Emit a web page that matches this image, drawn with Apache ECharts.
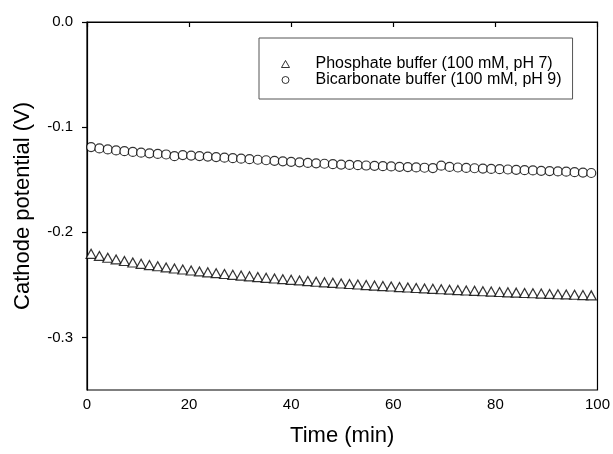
<!DOCTYPE html>
<html>
<head>
<meta charset="utf-8">
<script src="https://cdn.jsdelivr.net/npm/echarts@6/dist/echarts.min.js"></script>
<style>
  html, body { margin: 0; padding: 0; background: #fff; }
  #main { width: 613px; height: 454px; }
</style>
</head>
<body>
<div id="main"></div>
<script>
var myCharts = echarts.init(document.getElementById("main"));

// time (min) for each sample
var time = [0.8, 2.43, 4.07, 5.70, 7.33, 8.97, 10.60, 12.23, 13.86, 15.50,
    17.13, 18.76, 20.40, 22.03, 23.66, 25.30, 26.93, 28.56, 30.19, 31.83,
    33.46, 35.09, 36.73, 38.36, 39.99, 41.63, 43.26, 44.89, 46.52, 48.16,
    49.79, 51.42, 53.06, 54.69, 56.32, 57.96, 59.59, 61.22, 62.85, 64.49,
    66.12, 67.75, 69.39, 71.02, 72.65, 74.29, 75.92, 77.55, 79.18, 80.82,
    82.45, 84.08, 85.72, 87.35, 88.98, 90.62, 92.25, 93.88, 95.51, 97.15, 98.78];

// phosphate buffer (100 mM, pH 7)
var phosphate = [-0.2205, -0.2225, -0.2242, -0.2258, -0.2273, -0.2287, -0.2300, -0.2312, -0.2323, -0.2334,
    -0.2344, -0.2354, -0.2363, -0.2372, -0.2381, -0.2389, -0.2397, -0.2405, -0.2412, -0.2419,
    -0.2426, -0.2433, -0.2440, -0.2446, -0.2452, -0.2458, -0.2464, -0.2470, -0.2476, -0.2481,
    -0.2487, -0.2492, -0.2497, -0.2502, -0.2507, -0.2512, -0.2516, -0.2521, -0.2525, -0.2530,
    -0.2534, -0.2538, -0.2542, -0.2546, -0.2550, -0.2554, -0.2557, -0.2561, -0.2564, -0.2568,
    -0.2571, -0.2574, -0.2577, -0.2580, -0.2583, -0.2586, -0.2589, -0.2591, -0.2594, -0.2597, -0.2600];

// bicarbonate buffer (100 mM, pH 9)
var bicarbonate = [-0.1190, -0.1202, -0.1212, -0.1221, -0.1229, -0.1236, -0.1243, -0.1249, -0.1255, -0.1260,
    -0.1276, -0.1266, -0.1270, -0.1275, -0.1280, -0.1285, -0.1290, -0.1295, -0.1300, -0.1305,
    -0.1310, -0.1315, -0.1320, -0.1325, -0.1330, -0.1335, -0.1340, -0.1344, -0.1348, -0.1352,
    -0.1356, -0.1359, -0.1362, -0.1365, -0.1368, -0.1371, -0.1374, -0.1377, -0.1380, -0.1383,
    -0.1386, -0.1389, -0.1366, -0.1378, -0.1384, -0.1388, -0.1391, -0.1394, -0.1397, -0.1400,
    -0.1403, -0.1406, -0.1409, -0.1412, -0.1415, -0.1418, -0.1421, -0.1424, -0.1428, -0.1432, -0.1436];

var xTicks = [0, 20, 40, 60, 80, 100];
var yTicks = [0, -0.1, -0.2, -0.3];

var seriesNames = ['Phosphate buffer (100 mM, pH 7)', 'Bicarbonate buffer (100 mM, pH 9)'];

function pairs(xs, ys) {
    return xs.map(function (x, i) { return [x, ys[i]]; });
}

var font = 'Liberation Sans, Arial, sans-serif';
var markStyle = {color: '#fff', borderColor: '#000', borderWidth: 1.2};

var option = {
    animation: false,
    backgroundColor: '#fff',
    grid: {
        left: 87,
        right: 13,
        top: 22,
        bottom: 64,
        show: true,
        borderColor: '#000',
        borderWidth: 1.2
    },
    legend: {
        orient: 'vertical',
        left: 259,
        top: 38,
        padding: [18, 11, 11, 22],
        itemWidth: 8,
        itemHeight: 7,
        itemGap: 0,
        borderColor: '#555',
        borderWidth: 1,
        itemStyle: {color: '#fff', borderColor: '#000', borderWidth: 1},
        textStyle: {
            color: '#000',
            fontSize: 16,
            fontFamily: font,
            lineHeight: 15,
            padding: [0, 0, 0, 21]
        },
        data: [
            {name: seriesNames[0], icon: 'triangle'},
            {name: seriesNames[1], icon: 'circle'}
        ]
    },
    xAxis: {
        type: 'value',
        min: 0,
        max: 100,
        interval: 20,
        name: 'Time (min)',
        nameLocation: 'middle',
        nameGap: 35,
        nameTextStyle: {color: '#000', fontSize: 22, fontFamily: font},
        axisLine: {lineStyle: {color: '#000', width: 1.2}},
        axisTick: {inside: false, length: 5, lineStyle: {color: '#000', width: 1.2}, customValues: xTicks},
        axisLabel: {color: '#000', fontSize: 15, fontFamily: font, margin: 7, customValues: xTicks},
        splitLine: {show: false}
    },
    yAxis: {
        type: 'value',
        min: -0.35,
        max: 0,
        name: 'Cathode potential (V)',
        nameLocation: 'middle',
        nameGap: 53,
        nameTextStyle: {color: '#000', fontSize: 22, fontFamily: font},
        axisLine: {show: true, lineStyle: {color: '#000', width: 1.2}},
        axisTick: {show: true, inside: false, length: 5, lineStyle: {color: '#000', width: 1.2}, customValues: yTicks},
        axisLabel: {
            color: '#000', fontSize: 15, fontFamily: font, margin: 14, customValues: yTicks,
            formatter: function (v) { return v.toFixed(1); }
        },
        splitLine: {show: false}
    },
    series: [
        {
            name: seriesNames[0],
            type: 'scatter',
            symbol: 'triangle',
            symbolSize: [10, 9],
            itemStyle: markStyle,
            data: pairs(time, phosphate)
        },
        {
            name: seriesNames[1],
            type: 'scatter',
            symbol: 'circle',
            symbolSize: 9,
            itemStyle: markStyle,
            data: pairs(time, bicarbonate)
        }
    ]
};
myCharts.setOption(option);
</script>
</body>
</html>
